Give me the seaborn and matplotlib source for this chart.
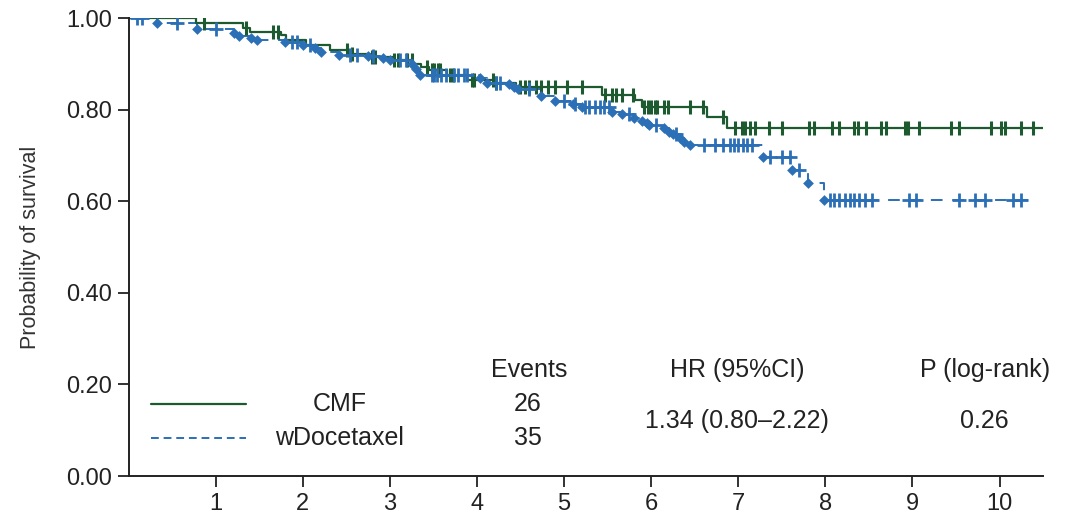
import numpy as np
import pandas as pd
import seaborn as sns
import matplotlib.pyplot as plt

# CMF arm: event times (years) and survival level after each drop
cmf_t = [0.77, 1.31, 1.39, 1.75, 1.81, 2.04, 2.31, 2.54, 2.77, 3.03, 3.26, 3.36, 3.45,
         3.65, 3.88, 4.22, 4.45, 5.44, 5.81, 5.89, 6.64, 6.87]
cmf_s = [0.989, 0.978, 0.969, 0.963, 0.952, 0.941, 0.930, 0.921, 0.915, 0.908, 0.900, 0.893, 0.886,
         0.876, 0.865, 0.858, 0.850, 0.832, 0.821, 0.806, 0.784, 0.760]
cmf_cens = [0.87, 1.35, 1.66, 1.71, 2.51, 2.56, 2.79, 2.83, 3.05, 3.09, 3.20, 3.25, 3.43, 3.48,
            3.51, 3.55, 3.57, 3.69, 3.72, 3.94, 3.97, 4.18, 4.22, 4.49, 4.55, 4.60, 4.68, 4.74,
            4.81, 4.89, 5.03, 5.20, 5.47, 5.55, 5.60, 5.66, 5.79, 5.92, 5.96, 6.00, 6.04, 6.07,
            6.15, 6.19, 6.44, 6.59, 6.82, 6.96, 7.04, 7.08, 7.14, 7.19, 7.35, 7.50, 7.81, 7.87,
            8.08, 8.16, 8.33, 8.38, 8.47, 8.64, 8.70, 8.91, 8.95, 9.07, 9.44, 9.54, 9.90, 10.02,
            10.06, 10.25, 10.39]
cmf_end = 10.52

# weekly docetaxel arm
doc_t = [0.32, 0.78, 1.21, 1.27, 1.41, 1.47, 1.79, 2.00, 2.14, 2.21, 2.42, 2.75, 2.92, 3.00,
         3.25, 3.30, 3.34, 4.03, 4.12, 4.37, 4.43, 4.47, 4.74, 4.89, 5.10, 5.20, 5.55, 5.67,
         5.80, 5.90, 5.95, 5.98, 6.15, 6.21, 6.25, 6.33, 6.38, 6.44, 7.28, 7.62, 7.80, 7.99]
doc_s = [0.989, 0.975, 0.968, 0.961, 0.957, 0.952, 0.948, 0.941, 0.934, 0.926, 0.920, 0.917,
         0.913, 0.909, 0.900, 0.889, 0.876, 0.868, 0.858, 0.855, 0.849, 0.845, 0.830, 0.818,
         0.812, 0.806, 0.795, 0.790, 0.782, 0.775, 0.770, 0.766, 0.760, 0.751, 0.746, 0.738,
         0.730, 0.723, 0.697, 0.668, 0.640, 0.603]
doc_cens = [0.09, 0.15, 0.56, 1.00, 1.88, 1.93, 2.08, 2.54, 2.62, 2.80, 3.11, 3.19, 3.48, 3.51,
            3.54, 3.59, 3.64, 3.73, 3.78, 3.85, 3.89, 4.22, 4.26, 4.60, 5.00, 5.12, 5.24, 5.29,
            5.35, 5.41, 5.46, 5.52, 5.75, 6.06, 6.29, 6.61, 6.73, 6.82, 6.90, 6.95, 7.00, 7.05,
            7.10, 7.16, 7.36, 7.50, 7.59, 7.70, 8.05, 8.10, 8.16, 8.22, 8.28, 8.33, 8.39, 8.45,
            8.53, 8.96, 9.04, 9.53, 9.72, 9.83, 10.15, 10.25]
doc_end = 10.34

groups = ['CMF', 'wDocetaxel']
events = ['26', '35']
hr_text = '1.34 (0.80\u20132.22)'
p_text = '0.26'

GREEN = '#1d5a30'
BLUE = '#2b6fb6'


def km_frame(times, surv, end):
    x = [0.0] + list(times) + [end]
    y = [1.0] + list(surv) + [surv[-1]]
    return pd.DataFrame({'time': x, 'surv': y})


def level_at(times, surv, c):
    c = np.asarray(c)
    idx = np.searchsorted(np.asarray(times), c, side='right')
    lv = np.concatenate([[1.0], surv])
    return lv[idx]


sns.set_style('ticks')
plt.rcParams['font.family'] = ['Liberation Sans', 'DejaVu Sans']
plt.rcParams['text.color'] = '#222222'

fig = plt.figure(figsize=(10.77, 5.15), dpi=100)
ax = fig.add_axes([0.1195, 0.0757, 0.849, 0.8893])

cmf_df = km_frame(cmf_t, cmf_s, cmf_end)
doc_df = km_frame(doc_t, doc_s, doc_end)

sns.lineplot(data=doc_df, x='time', y='surv', ax=ax, color=BLUE, linewidth=1.4,
             drawstyle='steps-post', linestyle=(0, (6, 5)), estimator=None, sort=False)
sns.lineplot(data=cmf_df, x='time', y='surv', ax=ax, color=GREEN, linewidth=1.6,
             drawstyle='steps-post', estimator=None, sort=False)

# censor marks and event markers
sns.scatterplot(x=cmf_cens, y=level_at(cmf_t, cmf_s, cmf_cens), ax=ax, marker='|',
                s=110, color=GREEN, linewidth=2.2, zorder=4)
sns.scatterplot(x=doc_cens, y=level_at(doc_t, doc_s, doc_cens), ax=ax, marker='+',
                s=110, color=BLUE, linewidth=2.0, zorder=4)
sns.scatterplot(x=doc_t, y=doc_s, ax=ax, marker='D', s=30, color=BLUE,
                edgecolor=BLUE, linewidth=0, zorder=5)

ax.set_xlim(0, 10.5)
ax.set_ylim(0, 1.0)
ax.set_xticks(range(1, 11))
ax.set_yticks([0, 0.2, 0.4, 0.6, 0.8, 1.0])
ax.set_yticklabels(['0.00', '0.20', '0.40', '0.60', '0.80', '1.00'])
ax.tick_params(axis='both', labelsize=17, length=8, width=1.3, colors='#222222',
               pad=4, direction='out')
ax.set_xlabel('')
ax.set_ylabel('Probability of survival', fontsize=15.5, color='#333333', labelpad=18)
sns.despine(ax=ax, top=True, right=True)
for side in ['left', 'bottom']:
    ax.spines[side].set_linewidth(1.4)
    ax.spines[side].set_color('#222222')

# legend / summary table
fs = 18
ax.text(4.6, 0.231, 'Events', ha='center', va='center', fontsize=fs)
ax.text(6.99, 0.231, 'HR (95%CI)', ha='center', va='center', fontsize=fs)
ax.text(9.83, 0.231, 'P (log-rank)', ha='center', va='center', fontsize=fs)
ax.plot([0.26, 1.35], [0.157, 0.157], color=GREEN, linewidth=1.6)
ax.plot([0.26, 1.35], [0.083, 0.083], color=BLUE, linewidth=1.4, linestyle=(0, (4, 2.5)))
ax.text(2.42, 0.157, groups[0], ha='center', va='center', fontsize=fs)
ax.text(2.42, 0.083, groups[1], ha='center', va='center', fontsize=fs)
ax.text(4.58, 0.157, events[0], ha='center', va='center', fontsize=fs)
ax.text(4.58, 0.083, events[1], ha='center', va='center', fontsize=fs)
ax.text(6.99, 0.12, hr_text, ha='center', va='center', fontsize=fs)
ax.text(9.83, 0.12, p_text, ha='center', va='center', fontsize=fs)

fig.savefig('out.png', dpi=100)
